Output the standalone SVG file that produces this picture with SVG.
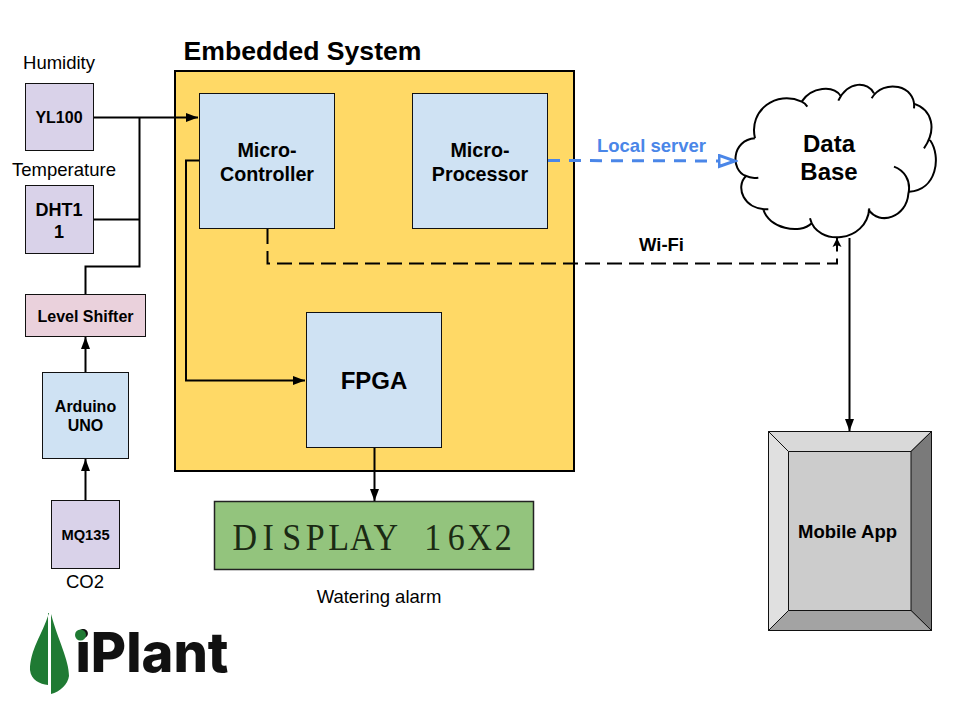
<svg xmlns="http://www.w3.org/2000/svg" width="958" height="719" viewBox="0 0 958 719">
<style>
text{font-family:"Liberation Sans",Arial,sans-serif;fill:#000;text-anchor:middle}
.b{font-weight:700}
.box{stroke:#111;stroke-width:1}
.s{fill:#d9d2e9}
.blue{fill:#cfe2f3}
.w{fill:none;stroke:#000;stroke-width:2}
.hi{font-size:19.700px;font-weight:700}
.lo{font-size:16px;font-weight:700}
.lbl{font-size:18.500px}
</style>
<defs>
<marker id="a" markerUnits="userSpaceOnUse" markerWidth="14" markerHeight="12" refX="12" refY="4.500" orient="auto"><path d="M0 0L12 4.500L0 9z" fill="#000"/></marker>
<marker id="o" markerUnits="userSpaceOnUse" markerWidth="20" markerHeight="16" refX="17" refY="7" orient="auto"><path d="M1 1.500L17 7L1 12.500z" fill="#fff" stroke="#4a86e8" stroke-width="3"/></marker>
<marker id="n" markerUnits="userSpaceOnUse" markerWidth="12" markerHeight="12" refX="10" refY="5" orient="auto"><path d="M1 0.500L10 5L1 9.500L3 5z" fill="#000"/></marker>
</defs>
<rect width="958" height="719" fill="#fff"/>
<g id="embedded-system">
<rect x="175" y="71" width="399" height="400" fill="#ffd966" stroke="#000" stroke-width="2"/>
<text x="302.500" y="60" style="font-size:26.600px" class="b">Embedded System</text>
</g>
<g id="yl100"><rect class="box s" x="25.500" y="83.500" width="68" height="67"/><text class="lo" x="59" y="123">YL100</text></g>
<text class="lbl" x="59" y="69">Humidity</text>
<g id="dht11"><rect class="box s" x="25.500" y="185.500" width="68" height="68"/><text x="59" y="216" class="b" style="font-size:18px">DHT1</text><text x="59" y="238" class="b" style="font-size:18px">1</text></g>
<text class="lbl" x="64" y="176">Temperature</text>
<g id="level-shifter"><rect fill="#ead1dc" class="box" x="25.500" y="294.500" width="120" height="42"/><text class="lo" x="85.500" y="322">Level Shifter</text></g>
<g id="arduino"><rect class="box blue" x="42.500" y="372.500" width="86" height="86"/><text class="lo" x="85.500" y="412">Arduino</text><text class="lo" x="85.500" y="431">UNO</text></g>
<g id="mq135"><rect class="box s" x="51.500" y="500.500" width="68" height="68"/><text class="b" style="font-size:14.700px" x="85.500" y="540">MQ135</text></g>
<text class="lbl" x="85" y="588">CO2</text>
<g id="micro-controller"><rect class="box blue" x="199.500" y="93.500" width="135" height="135"/><text class="hi" x="267" y="156.500">Micro-</text><text class="hi" x="267" y="180.500">Controller</text></g>
<g id="micro-processor"><rect class="box blue" x="412.500" y="93.500" width="135" height="135"/><text class="hi" x="480" y="156.500">Micro-</text><text class="hi" x="480" y="180.500">Processor</text></g>
<g id="fpga"><rect class="box blue" x="306.500" y="312.500" width="135" height="135"/><text class="b" style="font-size:24px" x="374" y="389">FPGA</text></g>
<g id="display"><rect x="214.500" y="501.500" width="319" height="68" fill="#93c47d" stroke="#222" stroke-width="1.500"/><text y="550" transform="scale(.92 1)" x="266 291.600 317.100 342.700 368.200 393.800 419.300 444.800 470.400 496 521.500 547" style="font-family:'Liberation Serif','Times New Roman',serif;font-size:37px;fill:#1b2a14">DISPLAY 16X2</text></g>
<text class="lbl" x="379" y="602.500">Watering alarm</text>
<g id="data-base">
<g transform="translate(720 70) scale(.3333)"><path d="M105 205C85 120 170 60 245 95C275 50 340 45 362 78C385 35 445 35 462 70C510 20 590 50 580 105C640 120 650 180 612 235C665 260 650 360 568 365C560 440 480 470 445 420C430 510 300 530 270 445C230 500 140 470 130 420C60 410 45 350 78 318C30 300 35 210 105 205Z" fill="#fff"/>
<path d="M105 205C85 120 170 60 245 95C252 98 258 104 262 110M245 95C275 50 340 45 362 78M355 92C385 30 445 35 462 70M455 85C490 25 590 45 582 115M580 100C640 120 650 180 612 235M630 210C665 260 650 360 568 365M522 290C550 300 575 330 565 372C560 440 480 470 445 418M448 415C440 520 290 530 270 445M275 460C240 495 145 475 130 418M145 418C70 420 45 350 78 318C85 322 100 325 115 323M78 318C30 300 35 210 105 205" fill="none" stroke="#000" stroke-width="6"/></g>
<text class="b" style="font-size:24px" x="829" y="152">Data</text><text class="b" style="font-size:24px" x="829" y="180">Base</text></g>
<g id="mobile-app" stroke="#111" stroke-width="1">
<rect x="768.500" y="431.500" width="163" height="199" fill="#ccc"/>
<path d="M768.500 431.500H931.500L911 451.500H788.500z" fill="#d9d9d9"/>
<path d="M768.500 431.500L788.500 451.500V610.500L768.500 630.500z" fill="#e0e0e0"/>
<path d="M931.500 431.500V630.500L911 610.500V451.500z" fill="#7a7a7a"/>
<path d="M768.500 630.500L788.500 610.500H911L931.500 630.500z" fill="#a3a3a3"/>
<text class="b" stroke="none" style="font-size:18.500px" x="847.500" y="538">Mobile App</text>
</g>
<g id="connectors">
<path class="w" d="M94 117.500H198" marker-end="url(#a)"/>
<path class="w" d="M94 219.500H139.500M139.500 117.500V266.500H85.500V294"/>
<path class="w" d="M85.500 372V337" marker-end="url(#a)"/>
<path class="w" d="M85.500 500V459" marker-end="url(#a)"/>
<path class="w" d="M199 160.500H186V380.500H305" marker-end="url(#a)"/>
<path class="w" d="M374.500 448V501" marker-end="url(#a)"/>
<path d="M548 160.500L735 161" fill="none" stroke="#4a86e8" stroke-width="3" stroke-dasharray="12 9" marker-end="url(#o)"/>
<path d="M267.500 229V263.500H837V238" fill="none" stroke="#000" stroke-width="2" stroke-dasharray="15 7" marker-end="url(#n)"/>
<path class="w" d="M849.500 238V431" marker-end="url(#a)"/>
</g>
<text x="651.500" y="152" class="b" style="font-size:18.500px;fill:#4a86e8">Local server</text>
<text x="661.500" y="251" class="b" style="font-size:18.500px">Wi-Fi</text>
<g id="iplant-logo">
<path d="M49 613C42 635 30 650 30 670C31 680 40 684 48 685V613z" fill="#1f7a33"/>
<path d="M51 614C58 640 69 660 69 676C68 684 60 692 51 694z" fill="#1f7a33"/>
<text x="152" y="672" style="font-family:Inter,Lato,sans-serif;font-weight:800;font-size:55px;fill:#111" textLength="153" lengthAdjust="spacingAndGlyphs">iPlant</text>
<circle cx="80.500" cy="635" r="5.500" fill="#1f7a33"/>
</g>
</svg>
